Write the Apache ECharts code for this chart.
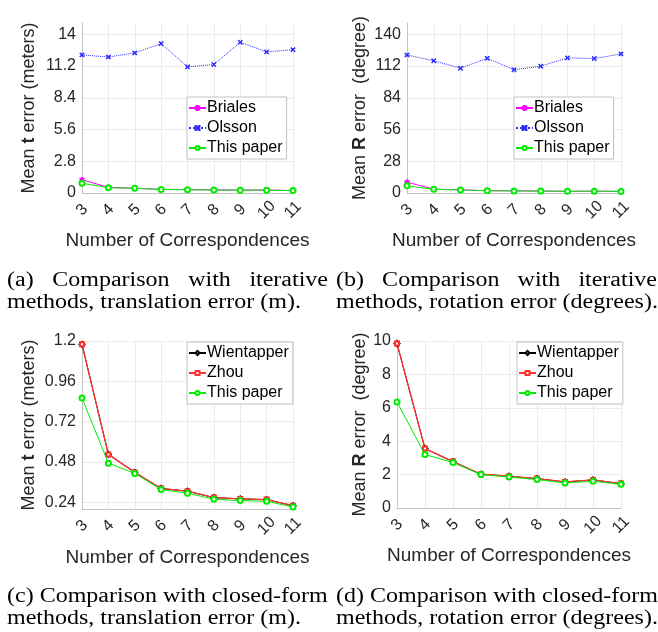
<!DOCTYPE html>
<html><head><meta charset="utf-8">
<script src="https://cdn.jsdelivr.net/npm/echarts@6/dist/echarts.min.js"></script>
<style>html,body{margin:0;padding:0;background:#fff}#c{width:658px;height:632px}</style>
</head><body><div id="c"></div>
<script>
// ---- data ----
const categories = ['3','4','5','6','7','8','9','10','11'];

// (a) iterative, translation error (m)
const iterT_Briales = [1.17, 0.50, 0.42, 0.32, 0.30, 0.27, 0.26, 0.26, 0.22];
const iterT_Olsson  = [12.18, 12.00, 12.36, 13.18, 11.13, 11.34, 13.30, 12.45, 12.65];
const iterT_Ours    = [0.86, 0.47, 0.41, 0.31, 0.29, 0.26, 0.25, 0.25, 0.21];

// (b) iterative, rotation error (deg)
const iterR_Briales = [9.5, 3.4, 2.8, 2.0, 1.9, 1.75, 1.55, 1.65, 1.45];
const iterR_Olsson  = [121.8, 116.6, 110.1, 118.9, 108.7, 111.9, 119.2, 118.6, 122.7];
const iterR_Ours    = [6.35, 3.2, 2.72, 2.0, 1.86, 1.7, 1.5, 1.6, 1.42];

// (c) closed-form, translation error (m)
const closedT_Wientapper = [1.18, 0.525, 0.418, 0.322, 0.306, 0.268, 0.260, 0.256, 0.220];
const closedT_Zhou       = [1.18, 0.525, 0.418, 0.322, 0.306, 0.268, 0.260, 0.256, 0.220];
const closedT_Ours       = [0.86, 0.473, 0.412, 0.316, 0.294, 0.258, 0.250, 0.246, 0.212];

// (d) closed-form, rotation error (deg)
const closedR_Wientapper = [9.85, 3.56, 2.78, 2.02, 1.90, 1.76, 1.56, 1.68, 1.46];
const closedR_Zhou       = [9.85, 3.56, 2.78, 2.02, 1.90, 1.76, 1.56, 1.68, 1.46];
const closedR_Ours       = [6.35, 3.20, 2.72, 2.00, 1.86, 1.70, 1.50, 1.60, 1.42];

// tick labels
const ticksA = [0, 2.8, 5.6, 8.4, 11.2, 14];
const ticksB = [0, 28, 56, 84, 112, 140];
const ticksC = [0.24, 0.48, 0.72, 0.96, 1.2];
const ticksD = [0, 2, 4, 6, 8, 10];

// ---- styling ----
const SANS = '"Liberation Sans", Arial, sans-serif';
const SERIF = '"Liberation Serif", "Times New Roman", serif';
const TXT = '#262626';
const AXIS = '#c4c4c4';
const GRIDC = '#ebebeb';

const xName = 'Number of Correspondences';
const nameRich = {
  a: {fontSize: 18, fontFamily: SANS, color: TXT},
  b: {fontSize: 18, fontFamily: SANS, color: TXT, fontWeight: 'bold'}
};

function mkX(gi, gap) {
  return {
    type: 'category', gridIndex: gi, data: categories, boundaryGap: false,
    name: xName, nameLocation: 'middle', nameGap: gap,
    nameTextStyle: {fontSize: 19, fontFamily: SANS, color: TXT},
    axisLine: {lineStyle: {color: AXIS, width: 1}},
    axisTick: {show: false},
    axisLabel: {rotate: 45, align: 'center', verticalAlign: 'middle', margin: 17,
      fontSize: 16, fontFamily: SANS, color: TXT, interval: 0},
    splitLine: {show: true, lineStyle: {color: GRIDC, width: 1}}
  };
}
function mkY(gi, min, max, ticks, name, gap) {
  return {
    type: 'value', gridIndex: gi, min: min, max: max,
    name: name, nameLocation: 'middle', nameGap: gap,
    nameTextStyle: {rich: nameRich},
    axisLine: {show: true, lineStyle: {color: AXIS, width: 1}},
    axisTick: {show: false, customValues: ticks},
    axisLabel: {customValues: ticks, fontSize: 16, fontFamily: SANS, color: TXT, margin: 6},
    splitLine: {show: true, lineStyle: {color: GRIDC, width: 1}}
  };
}

const SYM_X = 'path://M0,0L1.5,0L5,3.5L8.5,0L10,0L10,1.5L6.5,5L10,8.5L10,10L8.5,10L5,6.5L1.5,10L0,10L0,8.5L3.5,5L0,1.5Z';
const SYM_AST = 'path://M4.2,0h1.6v3.6l3.1,-1.8l0.8,1.4l-3.1,1.8l3.1,1.8l-0.8,1.4l-3.1,-1.8V10H4.2V6.4l-3.1,1.8l-0.8,-1.4l3.1,-1.8l-3.1,-1.8l0.8,-1.4l3.1,1.8Z';

function mkS(name, data, gi, color, symbol, size, opts) {
  opts = opts || {};
  return {
    type: 'line', name: name, data: data, xAxisIndex: gi, yAxisIndex: gi,
    symbol: symbol, symbolSize: size, showSymbol: true, showAllSymbol: true,
    lineStyle: {color: color, width: opts.width || 1, type: opts.type || 'solid'},
    itemStyle: {color: color, borderColor: color, borderWidth: 1},
    emphasis: {disabled: true}, animation: false, z: opts.z || 2
  };
}

function mkLegend(names, left, top) {
  return {
    orient: 'vertical', left: left, top: top, data: names, selectedMode: false,
    itemWidth: 17, itemHeight: 5, itemGap: 4,
    padding: [3, 4, 3, 1],
    textStyle: {fontSize: 16, fontFamily: SANS, color: '#000', padding: [0, 0, 0, -4]},
    borderColor: '#c0c0c0', borderWidth: 1, backgroundColor: '#fff'
  };
}

// ---- captions ----
const SX = 1.2;
const CAP_FS = 20;
const mctx = document.createElement('canvas').getContext('2d');
mctx.font = CAP_FS + 'px ' + SERIF;
function capText(text, x, y) {
  return {type: 'text', x: x, y: y, scaleX: SX, silent: true,
    style: {text: text, x: 0, y: 0, fontSize: CAP_FS, fontFamily: SERIF, fill: '#000', verticalAlign: 'middle', align: 'left'}};
}
function capLine(text, x, y, right) {
  if (right === undefined) return [capText(text, x, y)];
  const words = text.split(' ');
  const ws = words.map(w => mctx.measureText(w).width * SX);
  const tot = ws.reduce((a, b) => a + b, 0);
  const gap = (right - x - tot) / (words.length - 1);
  let cx = x;
  return words.map((w, i) => { const e = capText(w, cx, y); cx += ws[i] + gap; return e; });
}
const captions = [].concat(
  capLine('(a) Comparison with iterative', 7, 281, 328),
  capLine('methods, translation error (m).', 7, 303),
  capLine('(b) Comparison with iterative', 336, 281, 657),
  capLine('methods, rotation error (degrees).', 336, 303),
  capLine('(c) Comparison with closed-form', 7, 597),
  capLine('methods, translation error (m).', 7, 619),
  capLine('(d) Comparison with closed-form', 336, 597),
  capLine('methods, rotation error (degrees).', 336, 619)
);

const chart = echarts.init(document.getElementById('c'), null, {renderer: 'canvas'});
chart.setOption({
  animation: false,
  backgroundColor: '#fff',
  grid: [
    {left: 82, top: 23, width: 211, height: 170},
    {left: 407, top: 23, width: 214, height: 170},
    {left: 82, top: 341, width: 211, height: 168},
    {left: 397, top: 341, width: 224, height: 167}
  ],
  xAxis: [mkX(0, 38), mkX(1, 38), mkX(2, 39), mkX(3, 38)],
  yAxis: [
    mkY(0, 0, 15, ticksA, '{a|Mean }{b|t}{a| error (meters)}', 44),
    mkY(1, 0, 150, ticksB, '{a|Mean }{b|R}{a| error  (degree)}', 38),
    mkY(2, 0.2, 1.2, ticksC, '{a|Mean }{b|t}{a| error (meters)}', 44),
    mkY(3, 0, 10, ticksD, '{a|Mean }{b|R}{a| error  (degree)}', 28)
  ],
  legend: [
    mkLegend(['Briales', 'Olsson', 'This paper'], 187, 97),
    mkLegend(['Briales', 'Olsson', 'This paper'], 514, 97),
    mkLegend(['Wientapper', 'Zhou', 'This paper'], 187, 342),
    mkLegend(['Wientapper', 'Zhou', 'This paper'], 517, 342)
  ],
  series: [
    mkS('Briales', iterT_Briales, 0, '#ff00ff', SYM_AST, 5),
    mkS('Olsson', iterT_Olsson, 0, '#2b2bff', SYM_X, 4, {type: 'dotted'}),
    mkS('This paper', iterT_Ours, 0, '#00ee00', 'emptyCircle', 5, {z: 3}),

    mkS('Briales', iterR_Briales, 1, '#ff00ff', SYM_AST, 5),
    mkS('Olsson', iterR_Olsson, 1, '#2b2bff', SYM_X, 4, {type: 'dotted'}),
    mkS('This paper', iterR_Ours, 1, '#00ee00', 'emptyCircle', 5, {z: 3}),

    mkS('Wientapper', closedT_Wientapper, 2, '#000000', 'emptyDiamond', 5),
    mkS('Zhou', closedT_Zhou, 2, '#ff3030', 'emptyRect', 4, {width: 1.3}),
    mkS('This paper', closedT_Ours, 2, '#00ee00', 'emptyCircle', 5, {z: 3}),

    mkS('Wientapper', closedR_Wientapper, 3, '#000000', 'emptyDiamond', 5),
    mkS('Zhou', closedR_Zhou, 3, '#ff3030', 'emptyRect', 4, {width: 1.3}),
    mkS('This paper', closedR_Ours, 3, '#00ee00', 'emptyCircle', 5, {z: 3})
  ],
  graphic: captions
});
</script>
</body></html>
